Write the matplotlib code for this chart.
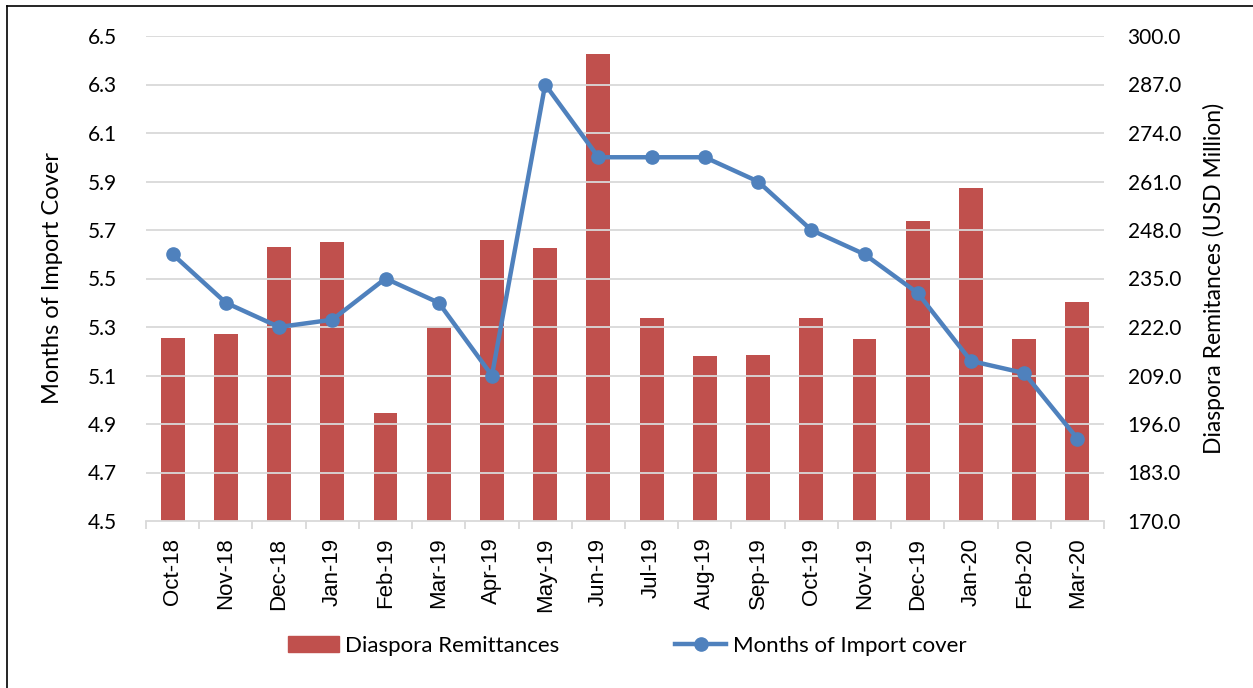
import matplotlib
matplotlib.use("Agg")
import matplotlib.pyplot as plt
from matplotlib.patches import Rectangle
from matplotlib.lines import Line2D
import numpy as np

months = ["Oct-18", "Nov-18", "Dec-18", "Jan-19", "Feb-19", "Mar-19", "Apr-19",
          "May-19", "Jun-19", "Jul-19", "Aug-19", "Sep-19", "Oct-19", "Nov-19",
          "Dec-19", "Jan-20", "Feb-20", "Mar-20"]
remittances = [219.1, 220.1, 243.5, 244.7, 198.9, 221.9, 245.3, 243.1, 295.3,
               224.4, 214.2, 214.6, 224.3, 218.7, 250.3, 259.3, 218.9, 228.7]
import_cover = [5.60, 5.40, 5.30, 5.33, 5.50, 5.40, 5.10, 6.30, 6.00, 6.00,
                6.00, 5.90, 5.70, 5.60, 5.44, 5.16, 5.11, 4.84]
left_ticks = [4.5, 4.7, 4.9, 5.1, 5.3, 5.5, 5.7, 5.9, 6.1, 6.3, 6.5]
right_ticks = [170.0, 183.0, 196.0, 209.0, 222.0, 235.0, 248.0, 261.0, 274.0, 287.0, 300.0]

BAR = "#C0504D"
LINE = "#4F81BD"
GRID = "#D9D9D9"
FONT = "Lato"

fig = plt.figure(figsize=(12.53, 6.88), dpi=100)
ax = fig.add_axes([146/1253, 1-521/688, (1104-146)/1253, (521-36)/688])
ax2 = ax.twinx()

x = np.arange(len(months))

ax2.bar(x, remittances, width=0.45, color=BAR, zorder=2)
ax2.set_ylim(170, 300)
ax2.set_yticks(right_ticks)
ax2.set_yticklabels([f"{v:.1f}" for v in right_ticks], fontsize=15, family=FONT)

ax.set_ylim(4.5, 6.5)
ax.set_yticks(left_ticks)
ax.set_yticklabels([f"{v:.1f}" for v in left_ticks], fontsize=15, family=FONT)
ax.set_xlim(-0.5, len(months) - 0.5)

for t in left_ticks[1:]:
    ax.axhline(t, color=GRID, lw=1.3, zorder=0)

ax.set_zorder(ax2.get_zorder() + 1)
ax.patch.set_visible(False)
ax.plot(x, import_cover, color=LINE, lw=3.2, marker="o", markersize=9.5, zorder=5)

for a in (ax, ax2):
    for s in ("top", "left", "right"):
        a.spines[s].set_visible(False)
ax.tick_params(axis="y", length=0, pad=21)
ax2.tick_params(axis="y", length=0, pad=17)
ax2.spines["bottom"].set_visible(False)
ax.spines["bottom"].set_color(GRID)
ax.spines["bottom"].set_linewidth(1.3)

ax.set_xticks(x)
ax.set_xticklabels(months, rotation=90, fontsize=16, family="Liberation Sans")
ax.tick_params(axis="x", which="major", length=0, pad=12)
ax.set_xticks(np.arange(-0.5, len(months), 1.0), minor=True)
ax.tick_params(axis="x", which="minor", length=6, color=GRID, width=1.3)

ax.set_ylabel("Months of Import Cover", fontsize=17, family=FONT, labelpad=18)
ax2.set_ylabel("Diaspora Remitances (USD Million)", fontsize=16.5, family=FONT, labelpad=16)

handles = [Rectangle((0, 0), 1, 1, color=BAR),
           Line2D([], [], color=LINE, lw=3.2, marker="o", markersize=9.5)]
fig.legend(handles, ["Diaspora Remittances", "Months of Import cover"],
           loc="center", bbox_to_anchor=(627/1253, 1-646/688), ncol=2,
           frameon=False, prop={"family": FONT, "size": 16},
           handlelength=2.3, columnspacing=5.2, handletextpad=0.3)

# chart border: left and top edges only
fig.add_artist(Line2D([7/1253, 7/1253], [0, 1-6/688], transform=fig.transFigure,
                      color="black", lw=1.2))
fig.add_artist(Line2D([7/1253, 1], [1-6/688, 1-6/688], transform=fig.transFigure,
                      color="black", lw=1.2))

fig.savefig("out.png", dpi=100)
